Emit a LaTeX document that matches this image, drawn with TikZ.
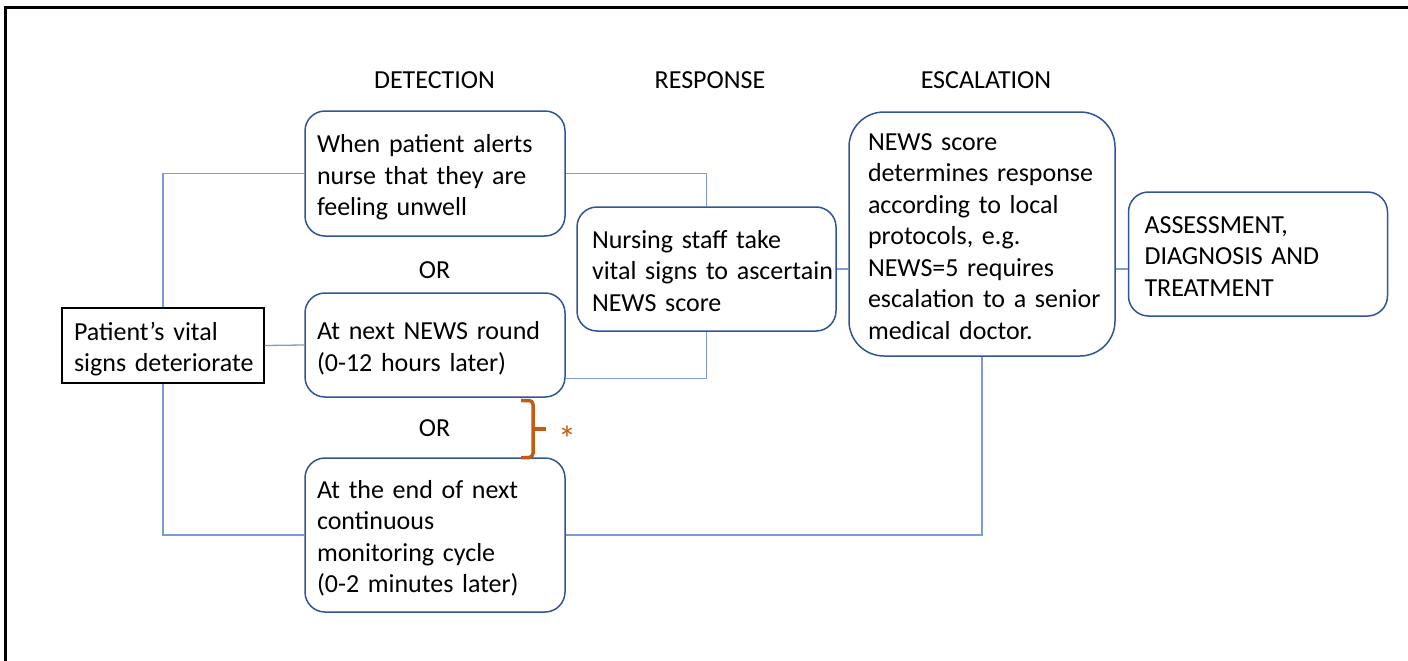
\documentclass[tikz,border=0pt]{standalone}
\usepackage{fontspec}
\setmainfont{Carlito}
\definecolor{boxblue}{RGB}{47,85,151}
\definecolor{linkblue}{RGB}{125,155,214}
\definecolor{bracketorange}{RGB}{197,90,17}
\hyphenpenalty=10000
\exhyphenpenalty=10000
\begin{document}
\begin{tikzpicture}[x=1pt,y=-1pt,
  every node/.style={font=\fontsize{26}{31.5}\selectfont},
  heading/.style={inner sep=0pt},
  textblock/.style={align=left, inner ysep=0pt,
    execute at begin node={\rule{0pt}{28pt}},
    execute at end node={\rule[-7pt]{0pt}{7pt}}},
  flowbox/.style={textblock, draw=boxblue, line width=1.5pt,
    rounded corners=20pt, fill=white},
  startbox/.style={textblock, draw=black, line width=1.2pt, fill=white},
  conn/.style={draw=linkblue, line width=1.3pt}
]
\useasboundingbox (0,0) rectangle (1408,661);

% outer frame (runs off the right and bottom edges)
\draw[line width=2.5pt] (5.5,661) -- (5.5,7.5) -- (1408,7.5);

% column headings
\node[heading] (hdet) at (434.5,80) {DETECTION};
\node[heading] (hres) at (710,80) {RESPONSE};
\node[heading] (hesc) at (986,80) {ESCALATION};

% detection options
\node[flowbox, minimum width=260pt, minimum height=125pt, text width=236pt, inner xsep=12pt]
  (A) at (435,173.5) {When patient alerts\\nurse that they are\\feeling unwell};
\node[heading] (or1) at (434.5,270) {OR};
\node[flowbox, minimum width=260pt, minimum height=104pt, text width=236pt, inner xsep=12pt]
  (B) at (435,345) {At next NEWS round\\(0-12 hours later)};
\node[heading] (or2) at (434.5,428.5) {OR};
\node[flowbox, minimum width=260pt, minimum height=154pt, text width=236pt, inner xsep=12pt]
  (C) at (435,535) {At the end of next\\continuous\\monitoring cycle\\(0-2 minutes later)};

% starting event
\node[startbox, minimum width=202pt, minimum height=75pt, text width=178pt, inner xsep=12pt]
  (P) at (163,345.5) {\mbox{Patient’s vital}\\\mbox{signs deteriorate}};

% response, escalation, outcome
\node[flowbox, minimum width=259pt, minimum height=124pt, text width=229pt, inner xsep=15pt]
  (N) at (706.5,269) {Nursing staff take\\\mbox{vital signs to ascertain}\\NEWS score};
\node[flowbox, rounded corners=35pt, minimum width=266pt, minimum height=244pt, text width=228pt, inner xsep=19pt]
  (E) at (982,234) {NEWS score\\\mbox{determines response}\\according to local\\protocols, e.g.\\NEWS=5 requires\\\mbox{escalation to a senior}\\medical doctor.};
\node[flowbox, minimum width=259pt, minimum height=124pt, text width=227pt, inner xsep=16pt]
  (S) at (1258,254) {ASSESSMENT,\\DIAGNOSIS AND\\TREATMENT};

% connectors
\draw[conn] (A.west) -| (P.north);
\draw[conn] (C.west) -| (P.south);
\draw[conn] (P.east) -- (B.west);
\draw[conn] (A.east) -| (N.north);
\coordinate (Bout) at ([yshift=19pt]B.south east);
\draw[conn] (Bout) -| (N.south);
\draw[conn] (N.east) -- (N.east -| E.west);
\draw[conn] (N.east -| E.east) -- (N.east -| S.west);
\draw[conn] (C.east) -| (E.south);

% bracket between the two timed checks
\draw[bracketorange, line width=3.5pt, rounded corners=4pt]
  (521,400.5) -- (533,400.5) -- (533,457.5) -- (521,457.5);
\draw[bracketorange, line width=3.5pt] (533,429) -- (546,429);
\node[text=bracketorange, anchor=base, inner sep=0pt,
  font=\fontsize{36}{36}\selectfont] (ast) at (567,451) {*};
\end{tikzpicture}
\end{document}
